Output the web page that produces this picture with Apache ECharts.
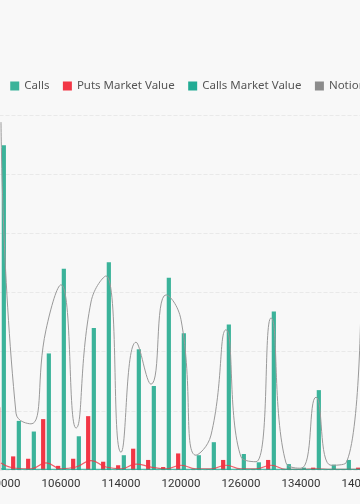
<!DOCTYPE html>
<html>
<head>
<meta charset="utf-8">
<script src="https://cdn.jsdelivr.net/npm/echarts@6/dist/echarts.min.js"></script>
<style>
html,body{margin:0;padding:0;width:360px;height:504px;overflow:hidden;background:#f8f8f8;}
#chart{position:absolute;left:-80px;top:0;width:500px;height:504px;}
</style>
</head>
<body>
<div id="chart"></div>
<script>
// Strikes (x categories)
var strikes = ['100000','102000','104000','105000','106000','108000','110000','112000','114000','115000','116000','118000','120000','122000','124000','125000','126000','128000','130000','132000','134000','135000','136000','138000','140000'];
// Bars
var puts  = [106, 23, 19, 86, 7, 19, 91, 14, 8, 36, 17, 5, 28, 1, 1, 17, 1, 1, 17, 1, 1, 4, 1, 1, 4];
var calls = [549, 83, 65, 197, 340, 57, 240, 351, 25, 204, 142, 325, 231, 25, 47, 246, 27, 13, 268, 10, 4, 135, 9, 17, 280];
// Lines
var putsMV  = [12, 3, 2, 12, 2, 5, 16, 5, 2, 10, 5, 2, 8, 2, 2, 8, 2, 2, 8, 1, 1, 2, 1, 1, 1];
var callsMV = [2, 1, 1, 1, 1, 1, 1, 1, 1, 1, 1, 1, 1, 1, 1, 1, 1, 1, 1, 1, 1, 1, 1, 1, 1];
var notional = [588, 96, 78, 237, 313, 71, 284, 328, 30, 216, 145, 296, 254, 25, 59, 237, 22, 14, 257, 12, 3, 123, 8, 12, 290];
// Axis ticks
var yMax = 600, yStep = 100;

var RED = '#f23645', GREEN = '#3bb39a', GREEN2 = '#22ab94', GRAY = '#999999';
var chart = echarts.init(document.getElementById('chart'), null, {renderer: 'canvas'});
chart.setOption({
  backgroundColor: '#f8f8f8',
  animation: false,
  legend: {
    top: 80, left: 39, padding: 0, itemGap: 13.5, itemWidth: 9, itemHeight: 9, icon: 'rect',
    textStyle: {color: '#555', fontSize: 11.5, fontFamily: 'Noto Sans'},
    data: ['Puts', 'Calls', 'Puts Market Value', 'Calls Market Value', 'Notional Value']
  },
  grid: {left: 73.5, right: 51.5, top: 115, bottom: 34, containLabel: false, outerBoundsMode: 'none'},
  xAxis: {
    type: 'category', data: strikes,
    axisLine: {show: false}, axisTick: {show: false},
    axisLabel: {interval: 3, color: '#333', fontSize: 11.5, fontFamily: 'Roboto', margin: 8}
  },
  yAxis: [
    {type: 'value', min: 0, max: yMax, interval: yStep,
     axisLabel: {color: '#666', fontSize: 11}, axisLine: {show: false}, axisTick: {show: false},
     splitLine: {lineStyle: {color: '#e9e9e9', type: 'dashed'}}},
    {type: 'value', min: 0, max: yMax, interval: yStep,
     axisLabel: {color: '#666', fontSize: 11}, axisLine: {show: false}, axisTick: {show: false},
     splitLine: {show: false}}
  ],
  series: [
    {name: 'Puts', type: 'bar', data: puts, barWidth: 4.2, barGap: '35%', itemStyle: {color: RED}},
    {name: 'Calls', type: 'bar', data: calls, barWidth: 4.2, barGap: '35%', itemStyle: {color: GREEN}},
    {name: 'Puts Market Value', type: 'line', data: putsMV, smooth: true, showSymbol: false, symbol: 'none',
     lineStyle: {color: RED, width: 1.2, opacity: 0.8}, itemStyle: {color: RED}},
    {name: 'Calls Market Value', type: 'line', data: callsMV, smooth: true, showSymbol: false, symbol: 'none',
     lineStyle: {color: GREEN2, width: 1.2, opacity: 0.8}, itemStyle: {color: GREEN2}},
    {name: 'Notional Value', type: 'line', yAxisIndex: 1, data: notional, smooth: true, showSymbol: false, symbol: 'none',
     lineStyle: {color: GRAY, width: 1}, itemStyle: {color: '#8c8c8c'}}
  ]
});
</script>
</body>
</html>
